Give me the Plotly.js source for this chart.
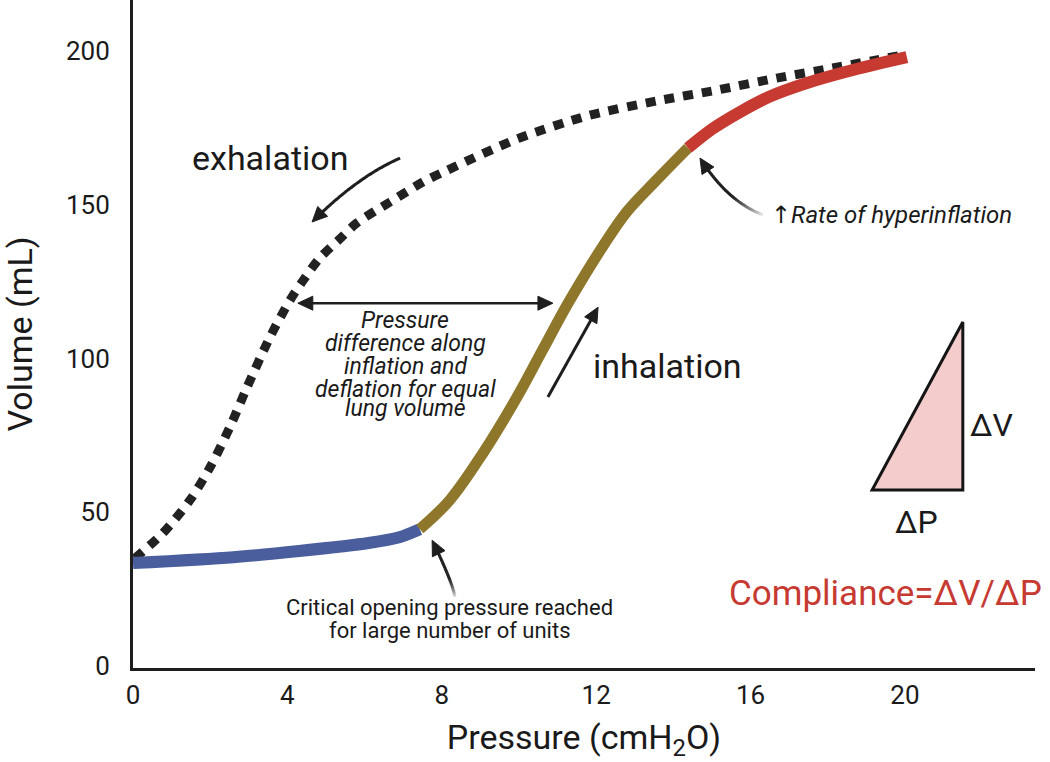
<!DOCTYPE html>
<html>
<head>
<meta charset="utf-8">
<script src="https://cdn.plot.ly/plotly-3.0.1.min.js"></script>
<style>html,body{margin:0;padding:0;background:#fff;}#chart{width:1050px;height:762px;}</style>
</head>
<body>
<div id="chart"></div>
<script>
// ---- data ----
const xTicks = [0, 4, 8, 12, 16, 20];
const yTicks = [0, 50, 100, 150, 200];

// deflation limb (dotted)
const deflP = [0.05, 0.78, 1.48, 2.0, 2.51, 2.95, 3.55, 4.07, 4.38, 4.84, 5.41, 5.80, 6.66, 7.51, 8.1, 9.97, 11.8, 13.58, 15.13, 16.68, 18.13, 19.17, 20.0];
const deflV = [35, 43.3, 54.0, 64.7, 77.7, 90.5, 107.0, 119.0, 124.9, 132.7, 139.5, 144.1, 150.9, 157.4, 161.0, 171.5, 179, 183.8, 187.3, 191.2, 194.5, 196.9, 198.8];

// inflation limb: low-compliance start (blue)
const lowP = [0, 2.6, 4.3, 6.1, 6.9, 7.43];
const lowV = [33.5, 35.4, 37.4, 40.0, 41.9, 44.5];

// inflation limb: linear part (olive)
const midP = [7.43, 8.21, 9.07, 9.95, 10.62, 11.32, 12.2, 12.8, 13.5, 14.38];
const midV = [44.5, 54.0, 69.3, 87.5, 103.0, 119.0, 137.0, 147.8, 157.2, 168.5];

// inflation limb: hyperinflation (red)
const highP = [14.38, 15.0, 15.73, 16.5, 17.46, 18.7, 20.05];
const highV = [168.5, 174.6, 180.2, 185.2, 189.6, 194, 198.0];

// compliance triangle
const triP = [19.15, 21.5, 21.5];
const triV = [57.2, 57.2, 111.9];

const X_RANGE = [0, 23.37], Y_RANGE = [-0.65, 216.6];
const M = {l: 133, r: 15, t: 0, b: 94};
const SX = (1050 - M.l - M.r) / (X_RANGE[1] - X_RANGE[0]);   // px per unit
const SY = (762 - M.t - M.b) / (Y_RANGE[1] - Y_RANGE[0]);

const DARK = '#1e1e1e';
const FONT = 'Roboto, "Open Sans", sans-serif';

const traces = [
  {x: deflP, y: deflV, mode: 'lines', line: {color: '#222222', width: 9, dash: '10px,9px', shape: 'spline', smoothing: 0.8}, hoverinfo: 'skip'},
  {x: lowP, y: lowV, mode: 'lines', line: {color: '#4a5e9e', width: 12, shape: 'spline', smoothing: 0.8}, hoverinfo: 'skip'},
  {x: midP, y: midV, mode: 'lines', line: {color: '#8e772b', width: 11, shape: 'spline', smoothing: 1}, hoverinfo: 'skip'},
  {x: highP, y: highV, mode: 'lines', line: {color: '#c63a32', width: 12, shape: 'spline', smoothing: 0.8}, hoverinfo: 'skip'}
];

// filled triangular arrow head; (ux,uy) = pixel direction pointing at the tip
function head(tip, ux, uy, len, hw) {
  const n = Math.hypot(ux, uy); ux /= n; uy /= n;
  const bx = -ux * len, by = -uy * len;      // base centre offset (px)
  const nx = -uy * hw, ny = ux * hw;
  const toD = (dx, dy) => [tip[0] + dx / SX, tip[1] - dy / SY];
  const a = toD(0, 0), b = toD(bx + nx, by + ny), c = toD(bx - nx, by - ny);
  return {type: 'path', xref: 'x', yref: 'y', path: `M ${a[0]},${a[1]} L ${b[0]},${b[1]} L ${c[0]},${c[1]} Z`,
          fillcolor: DARK, line: {color: DARK, width: 1}, layer: 'above'};
}

// quadratic bezier arrow split in segments (optionally fading at its tail)
function curveArrow(p0, c, tip, fade) {
  const n = 26, out = [], tEnd = 0.9;
  const pt = t => [
    (1 - t) * (1 - t) * p0[0] + 2 * (1 - t) * t * c[0] + t * t * tip[0],
    (1 - t) * (1 - t) * p0[1] + 2 * (1 - t) * t * c[1] + t * t * tip[1]
  ];
  for (let i = 0; i < n; i++) {
    const t0 = tEnd * i / n, t1 = Math.min(tEnd, tEnd * (i + 1.15) / n);
    const a = pt(t0), b = pt(t1);
    const tm = (t0 + t1) / 2;
    let col = DARK;
    if (fade > 0 && tm < fade) {
      const k = tm / fade;
      const g = Math.round(245 - (245 - 30) * Math.pow(k, 0.8));
      col = `rgb(${g},${g},${g})`;
    }
    out.push({type: 'line', xref: 'x', yref: 'y', x0: a[0], y0: a[1], x1: b[0], y1: b[1], line: {color: col, width: 3}, layer: 'above'});
  }
  out.push(head(tip, (tip[0] - c[0]) * SX, -(tip[1] - c[1]) * SY, 15, 7));
  return out;
}

function straightArrow(tail, tip, both, w) {
  const dx = (tip[0] - tail[0]) * SX, dy = -(tip[1] - tail[1]) * SY;
  const L = Math.hypot(dx, dy), k = 8 / L;
  const s = both ? [tail[0] + (tip[0] - tail[0]) * k, tail[1] + (tip[1] - tail[1]) * k] : tail;
  const e = [tip[0] - (tip[0] - tail[0]) * k, tip[1] - (tip[1] - tail[1]) * k];
  const out = [{type: 'line', xref: 'x', yref: 'y', x0: s[0], y0: s[1], x1: e[0], y1: e[1], line: {color: DARK, width: w}, layer: 'above'},
               head(tip, dx, dy, 15, 7)];
  if (both) out.push(head(tail, -dx, -dy, 15, 7));
  return out;
}

const shapes = [
  {type: 'path', xref: 'x', yref: 'y',
   path: `M ${triP[0]},${triV[0]} L ${triP[1]},${triV[1]} L ${triP[2]},${triV[2]} Z`,
   fillcolor: '#f4cccc', line: {color: '#151515', width: 3}, layer: 'above'},
  ...curveArrow([6.92, 165.2], [5.80, 159.0], [4.64, 144.4], 0),
  ...curveArrow([16.32, 146.7], [15.39, 151.2], [14.69, 165.2], 0.45),
  ...curveArrow([8.34, 22.4], [8.29, 27.0], [7.75, 40.9], 0.45),
  ...straightArrow([10.75, 87.5], [12.05, 116.7], false, 3),
  ...straightArrow([4.27, 118.0], [10.88, 118.0], true, 2.5)
];

const txt = (x, y, text, size, color) => ({x, y, xref: 'x', yref: 'y', text, showarrow: false, xanchor: 'center', yanchor: 'middle',
  font: {family: FONT, size, color: color || '#1a1a1a'}});

const annotations = [
  txt(3.55, 165.2, 'exhalation', 34),
  txt(13.86, 97.6, 'inhalation', 34),
  txt(7.05, 112.5, '<i>Pressure</i>', 23),
  txt(7.05, 105.0, '<i>difference along</i>', 23),
  txt(7.05, 97.4, '<i>inflation and</i>', 23),
  txt(7.05, 89.9, '<i>deflation for equal</i>', 23),
  txt(7.05, 83.9, '<i>lung volume</i>', 23),
  txt(19.64, 146.7, '<span style="font-family:\'DejaVu Sans\'">↑</span><i>Rate of hyperinflation</i>', 24),
  txt(8.21, 18.9, 'Critical opening pressure reached', 22),
  txt(8.21, 11.7, 'for large number of units', 22),
  txt(22.25, 78.4, 'ΔV', 32),
  txt(20.31, 46.8, 'ΔP', 32),
  txt(19.5, 23.7, 'Compliance=ΔV/ΔP', 35, '#c63a32')
];

const layout = {
  width: 1050, height: 762,
  margin: {l: M.l, r: M.r, t: M.t, b: M.b, pad: 0},
  paper_bgcolor: '#ffffff', plot_bgcolor: '#ffffff',
  showlegend: false,
  font: {family: FONT, color: '#1a1a1a'},
  xaxis: {
    range: X_RANGE, tickmode: 'array', tickvals: xTicks, ticktext: xTicks.map(String),
    showgrid: false, zeroline: false, showline: true, linecolor: '#1e1e1e', linewidth: 3,
    ticks: '', ticklabelstandoff: 2, tickfont: {family: FONT, size: 26, color: '#1a1a1a'},
    title: {text: 'Pressure (cmH<sub>2</sub>O)', font: {family: FONT, size: 34, color: '#1a1a1a'}, standoff: 20},
    fixedrange: true
  },
  yaxis: {
    range: Y_RANGE, tickmode: 'array', tickvals: yTicks, ticktext: yTicks.map(String),
    showgrid: false, zeroline: false, showline: true, linecolor: '#1e1e1e', linewidth: 3,
    ticks: '', ticklabelstandoff: 15, tickfont: {family: FONT, size: 26, color: '#1a1a1a'},
    title: {text: 'Volume (mL)', font: {family: FONT, size: 34, color: '#1a1a1a'}, standoff: 24},
    fixedrange: true
  },
  shapes, annotations
};

Plotly.newPlot('chart', traces, layout, {displayModeBar: false, staticPlot: true});
</script>
</body>
</html>
